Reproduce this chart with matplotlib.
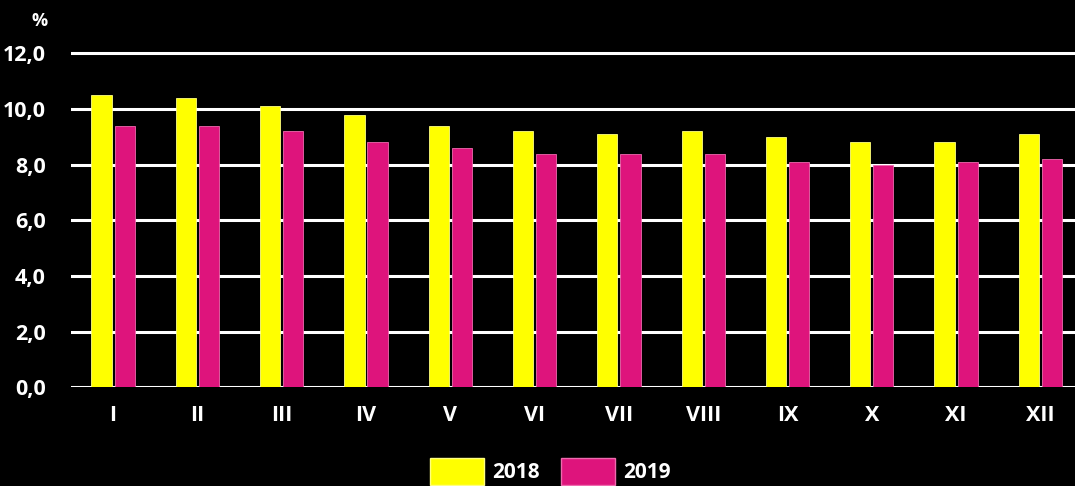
import numpy as np
import matplotlib
matplotlib.use("Agg")
import matplotlib.pyplot as plt
from matplotlib.patches import Patch

months = ["I", "II", "III", "IV", "V", "VI", "VII", "VIII", "IX", "X", "XI", "XII"]
vals_2018 = [10.5, 10.4, 10.1, 9.8, 9.4, 9.2, 9.1, 9.2, 9.0, 8.8, 8.8, 9.1]
vals_2019 = [9.4, 9.4, 9.2, 8.8, 8.6, 8.4, 8.4, 8.4, 8.1, 8.0, 8.1, 8.2]
yticks = [0, 2, 4, 6, 8, 10, 12]

yellow = "#FFFF00"
pink = "#DE147C"

plt.rcParams["font.family"] = ["Open Sans", "DejaVu Sans"]
plt.rcParams["font.weight"] = "bold"

fig = plt.figure(figsize=(10.75, 4.86), dpi=100, facecolor="black")
ax = fig.add_axes([0.066, 0.203, 0.934, 0.6986])
ax.set_facecolor("black")

x = np.arange(len(months))
w = 0.24
ax.bar(x - 0.137, vals_2018, w, color=yellow, edgecolor="#FFFF80", linewidth=0.6, zorder=3)
ax.bar(x + 0.137, vals_2019, w, color=pink, edgecolor="#EE6AAE", linewidth=0.6, zorder=3)

ax.set_xlim(-0.5, 11.41)
ax.set_ylim(0, 12.2)
ax.set_yticks(yticks)
ax.set_yticklabels([f"{v:.1f}".replace(".", ",") for v in yticks])
ax.set_xticks(x)
ax.set_xticklabels(months)
ax.tick_params(colors="white", length=0, labelsize=15.5)
ax.tick_params(axis="x", pad=13)
ax.tick_params(axis="y", pad=18)
for lbl in ax.get_xticklabels() + ax.get_yticklabels():
    lbl.set_fontweight("bold")
ax.grid(axis="y", color="white", linewidth=2.2, zorder=1)
ax.set_axisbelow(True)
for s in ax.spines.values():
    s.set_visible(False)

fig.text(0.037, 0.957, "%", color="white", fontsize=13, fontweight="bold", ha="center", va="center")

handles = [Patch(facecolor=yellow, edgecolor="#FFFF80"), Patch(facecolor=pink, edgecolor="#EE6AAE")]
fig.legend(handles, ["2018", "2019"], loc="upper center", bbox_to_anchor=(0.512, 0.058),
           ncol=2, frameon=False, handlelength=2.6, handleheight=1.6, handletextpad=0.4,
           columnspacing=1.0, borderaxespad=0, borderpad=0, labelcolor="white",
           prop={"size": 15, "weight": "bold"})

fig.savefig("out.png", dpi=100, facecolor="black")
